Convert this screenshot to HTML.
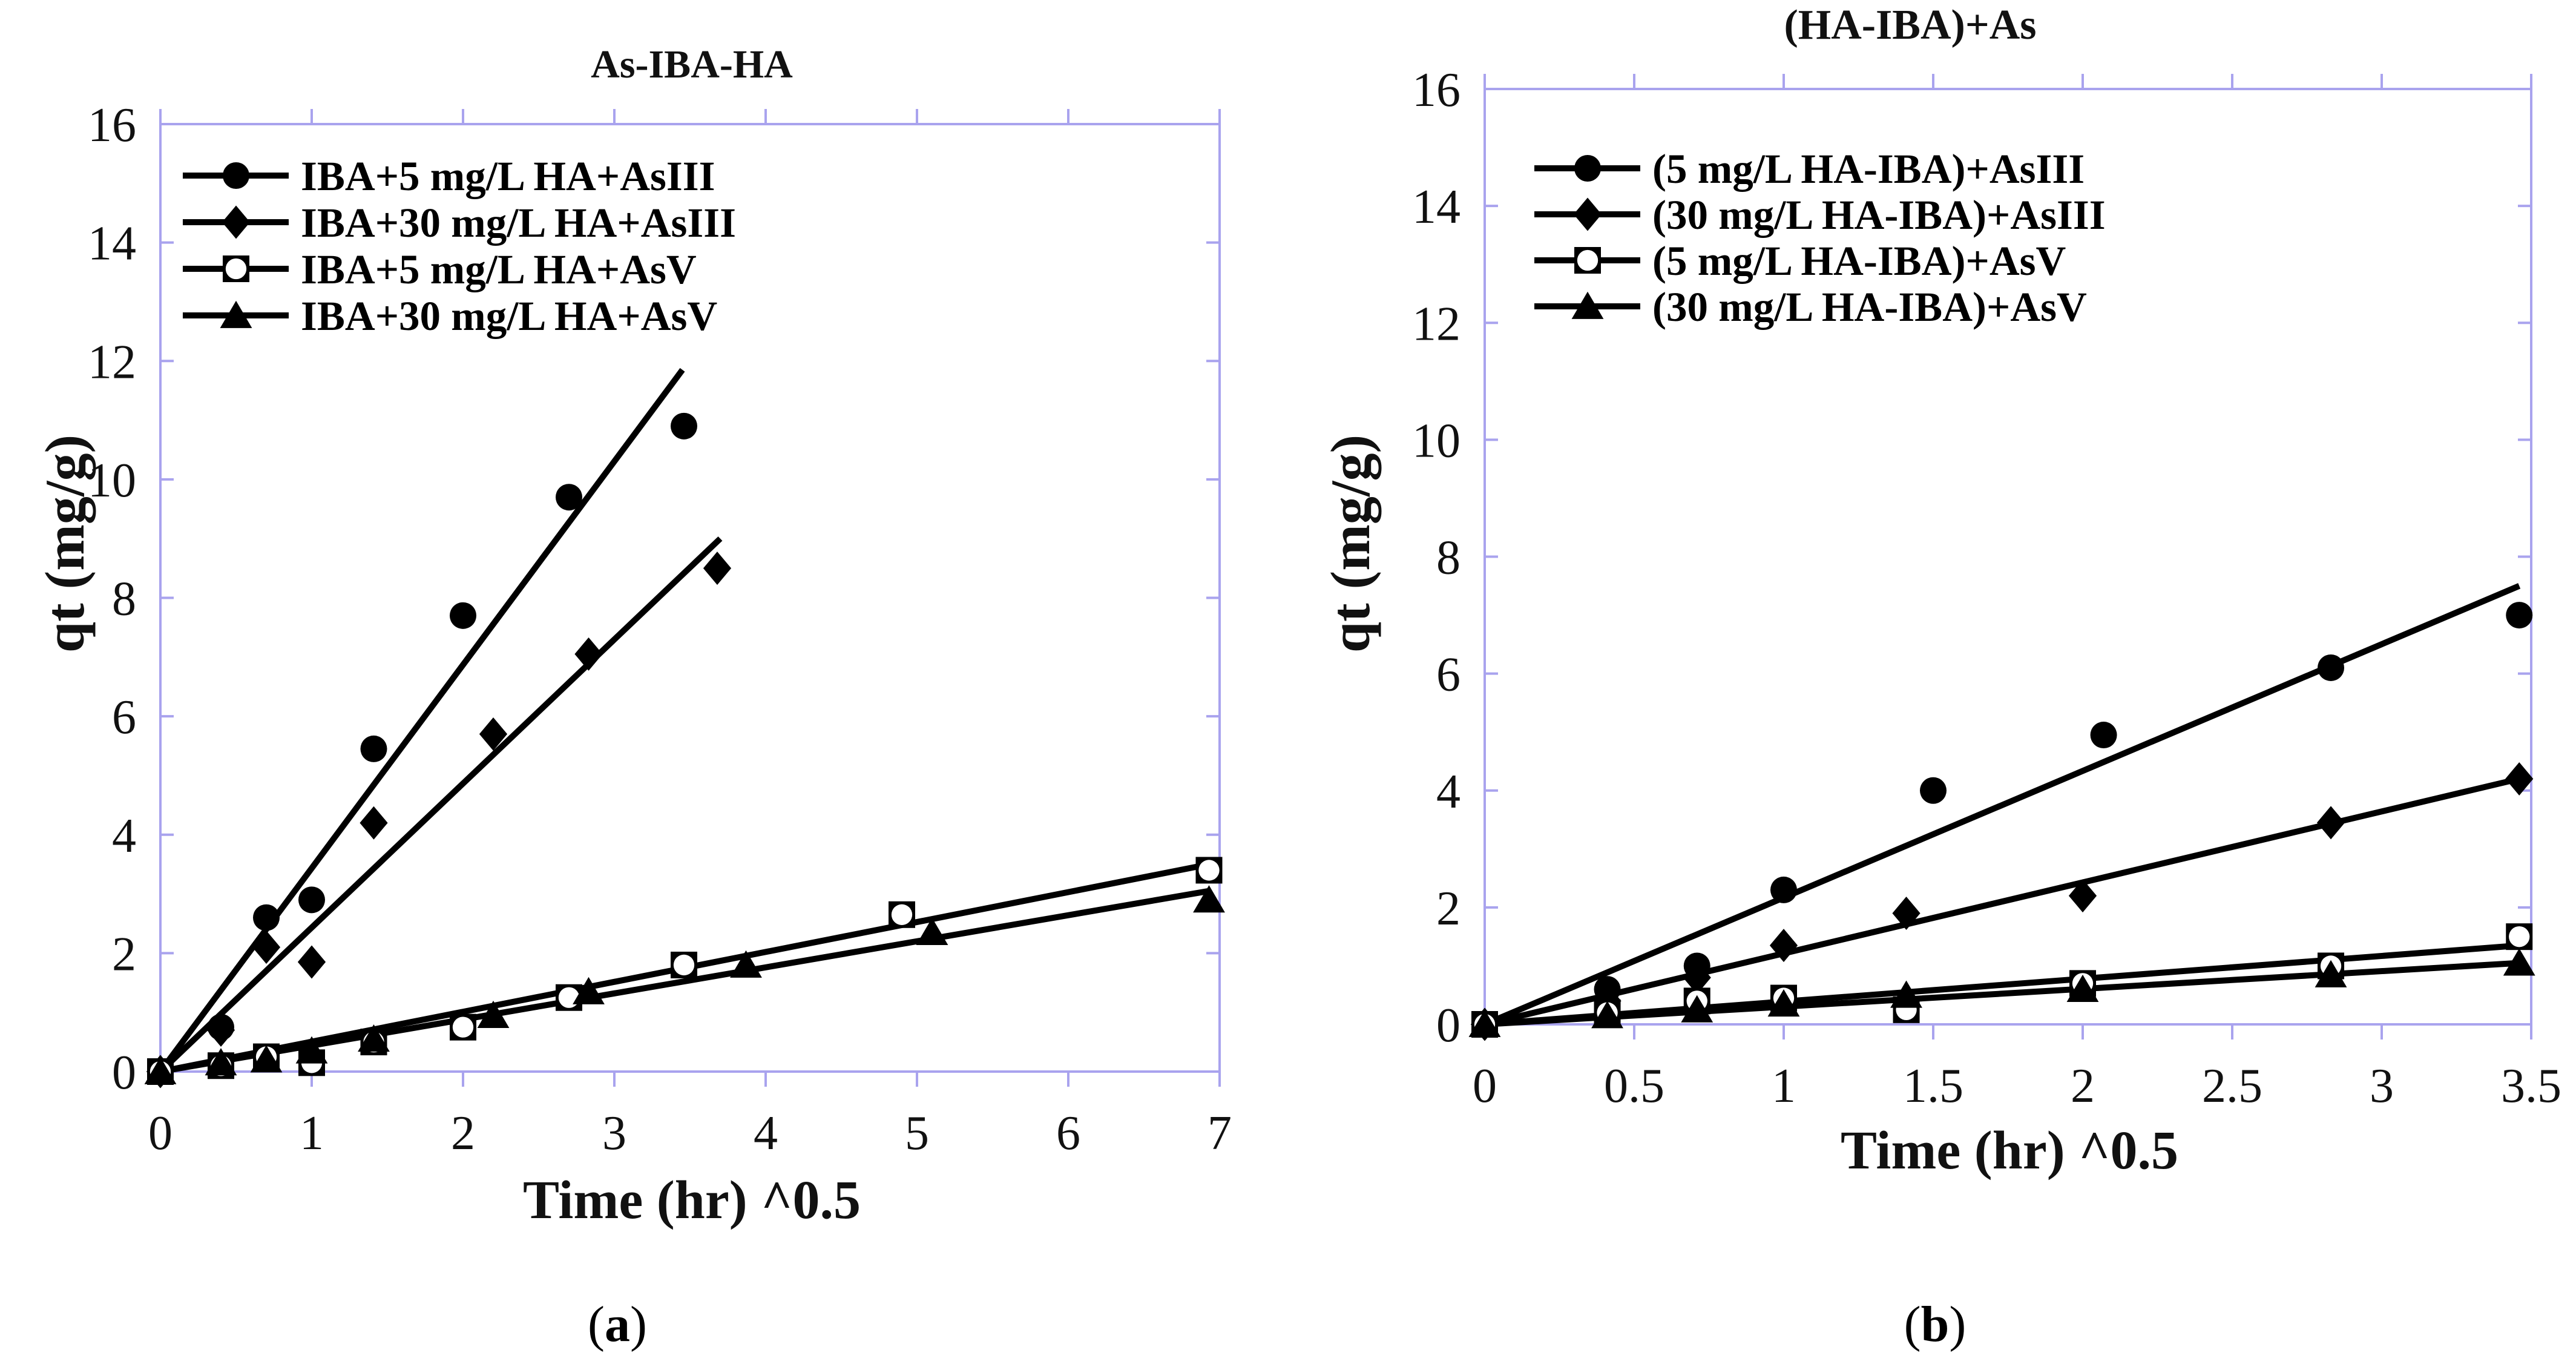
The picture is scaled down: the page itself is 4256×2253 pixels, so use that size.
<!DOCTYPE html>
<html><head><meta charset="utf-8"><style>
html,body{margin:0;padding:0;background:#fff;}
svg{display:block;font-family:"Liberation Serif",serif;}
</style></head><body>
<svg id="fig" width="4256" height="2253" viewBox="0 0 4256 2253" xmlns="http://www.w3.org/2000/svg"></svg>
<script>
// ---- Panel (a) data ----
const aS1x=[0,0.4,0.7,1,1.41,2,2.7,3.46];
const aS1y=[0,0.75,2.6,2.9,5.45,7.7,9.7,10.9];
const aS2x=[0,0.4,0.7,1,1.41,2.2,2.83,3.68];
const aS2y=[0,0.7,2.1,1.85,4.2,5.7,7.05,8.5];
const aS3x=[0,0.4,0.7,1,1.41,2,2.7,3.46,4.9,6.93];
const aS3y=[0,0.1,0.25,0.15,0.5,0.75,1.25,1.8,2.65,3.4];
const aS4x=[0,0.4,0.7,1,1.41,2.2,2.83,3.87,5.1,6.93];
const aS4y=[0,0.15,0.2,0.35,0.55,0.95,1.35,1.8,2.35,2.9];
const aFitEndX=[3.45,3.7,6.93,6.93];
const aFitEndY=[11.85,9.0,3.5,3.05];
const aXTicks=[0,1,2,3,4,5,6,7];
const aYTicks=[0,2,4,6,8,10,12,14,16];
const aLegend=["IBA+5 mg/L HA+AsIII","IBA+30 mg/L HA+AsIII","IBA+5 mg/L HA+AsV","IBA+30 mg/L HA+AsV"];
// ---- Panel (b) data ----
const bS1x=[0,0.41,0.71,1,1.5,2.07,2.83,3.46];
const bS1y=[0,0.6,1.0,2.3,4.0,4.95,6.1,7.0];
const bS2x=[0,0.41,0.71,1,1.41,2,2.83,3.46];
const bS2y=[0,0.4,0.8,1.35,1.9,2.2,3.45,4.2];
const bS3x=[0,0.41,0.71,1,1.41,2,2.83,3.46];
const bS3y=[0,0.2,0.4,0.45,0.25,0.7,1.0,1.5];
const bS4x=[0,0.41,0.71,1,1.41,2,2.83,3.46];
const bS4y=[0,0.15,0.25,0.35,0.5,0.6,0.85,1.05];
const bFitEndX=[3.46,3.46,3.46,3.46];
const bFitEndY=[7.5,4.2,1.35,1.05];
const bXTicks=[0,0.5,1,1.5,2,2.5,3,3.5];
const bXTickLabels=["0","0.5","1","1.5","2","2.5","3","3.5"];
const bYTicks=[0,2,4,6,8,10,12,14,16];
const bLegend=["(5 mg/L HA-IBA)+AsIII","(30 mg/L HA-IBA)+AsIII","(5 mg/L HA-IBA)+AsV","(30 mg/L HA-IBA)+AsV"];

const NS="http://www.w3.org/2000/svg";
const svg=document.getElementById('fig');
function mk(tag,attrs,parent){const e=document.createElementNS(NS,tag);for(const k in attrs)e.setAttribute(k,attrs[k]);(parent||svg).appendChild(e);return e;}
function txt(s,attrs,parent){const e=mk('text',attrs,parent);e.textContent=s;return e;}

function marker(g,type,cx,cy,r){
  let e;
  if(type===0){e=mk('circle',{cx:cx,cy:cy,r:r,fill:'#000'},g);}
  else if(type===1){e=mk('polygon',{points:`${cx},${cy-r*1.25} ${cx+r*1.05},${cy} ${cx},${cy+r*1.25} ${cx-r*1.05},${cy}`,fill:'#000'},g);}
  else if(type===2){e=mk('g',{},g);mk('rect',{x:cx-r,y:cy-r,width:2*r,height:2*r,fill:'#000'},e);mk('circle',{cx:cx,cy:cy,r:r*0.78,fill:'#fff'},e);}
  else {e=mk('polygon',{points:`${cx},${cy-r*1.1} ${cx+r*1.2},${cy+r*0.95} ${cx-r*1.2},${cy+r*0.95}`,fill:'#000'},g);}
  return e;
}

function panel(o){
  const g=mk('g',{});
  
  
  const X=v=>o.x0+(v-o.xmin)/(o.xmax-o.xmin)*(o.x1-o.x0);
  const Y=v=>o.y0-(v/16)*(o.y0-o.y1);
  const fr=mk('rect',{x:o.x0,y:o.y1,width:o.x1-o.x0,height:o.y0-o.y1,fill:'none',stroke:'#a9a3ee','stroke-width':4},g);
  
  
  o.xt.forEach((v,i)=>{
    const x=X(v);
    mk('line',{x1:x,y1:o.y0,x2:x,y2:o.y0+25,stroke:'#a9a3ee','stroke-width':4},g);
    mk('line',{x1:x,y1:o.y1,x2:x,y2:o.y1-25,stroke:'#a9a3ee','stroke-width':4},g);
    const t=txt(o.xtl?o.xtl[i]:String(v),{x:x,y:o.y0+128,'font-size':80,'text-anchor':'middle',fill:'#111'},g);
    
    
  });
  o.yt.forEach(v=>{
    const y=Y(v);
    mk('line',{x1:o.x0,y1:y,x2:o.x0+22,y2:y,stroke:'#a9a3ee','stroke-width':4},g);
    mk('line',{x1:o.x1,y1:y,x2:o.x1-22,y2:y,stroke:'#a9a3ee','stroke-width':4},g);
    const t=txt(String(v),{x:o.x0-40,y:y+28,'font-size':80,'text-anchor':'end',fill:'#111'},g);
    
    
  });
  o.series.forEach((s,i)=>{
    const l=mk('line',{x1:X(0),y1:Y(0),x2:X(o.fx[i]),y2:Y(o.fy[i]),stroke:'#000','stroke-width':10},g);
    
    
  });
  [0,1,2,3].forEach(i=>{
    const s=o.series[i];
    s[0].forEach((xv,j)=>{
      const m=marker(g,i,X(xv),Y(s[1][j]),22);
      
      
    });
  });
  o.leg.forEach((s,i)=>{
    const y=o.ly+i*o.ldy;
    const lg=mk('g',{},g);
    
    
    mk('line',{x1:o.lx,y1:y,x2:o.lx+175,y2:y,stroke:'#000','stroke-width':10},lg);
    marker(lg,i,o.lx+88,y,22);
    txt(s,{x:o.lx+195,y:y+24,'font-size':69,'font-weight':'bold',fill:'#000'},lg);
  });
  const tt=txt(o.title,{x:o.tx,y:o.ty,'font-size':o.tfs,'font-weight':'bold','text-anchor':'middle',fill:'#111'},g);
  
  
  const xl=txt('Time (hr) ^0.5',{x:o.xlx,y:o.xly,'font-size':90,'font-weight':'bold','text-anchor':'middle',fill:'#111'},g);
  
  
  const yl=txt('qt (mg/g)',{x:0,y:0,'font-size':92,'font-weight':'bold','text-anchor':'middle',fill:'#111',transform:`translate(${o.ylx},${o.yly}) rotate(-90)`},g);
  
  
  const pl=mk('text',{x:o.plx,y:2215,'font-size':84,'text-anchor':'middle',fill:'#000'},g);
  
  
  const t1=mk('tspan',{},pl);t1.textContent='(';
  const t2=mk('tspan',{'font-weight':'bold'},pl);t2.textContent=o.plabel;
  const t3=mk('tspan',{},pl);t3.textContent=')';
}

panel({name:'panel-a',x0:265,x1:2015,y0:1770,y1:205,xmin:0,xmax:7,xt:aXTicks,yt:aYTicks,
  series:[[aS1x,aS1y],[aS2x,aS2y],[aS3x,aS3y],[aS4x,aS4y]],fx:aFitEndX,fy:aFitEndY,
  leg:aLegend,lx:302,ly:290,ldy:77,title:'As-IBA-HA',tfs:66,tx:1143,ty:128,xlx:1143,xly:2012,ylx:138,yly:898,plabel:'a',plx:1020});
panel({name:'panel-b',x0:2453,x1:4182,y0:1692,y1:147,xmin:0,xmax:3.5,xt:bXTicks,xtl:bXTickLabels,yt:bYTicks,
  series:[[bS1x,bS1y],[bS2x,bS2y],[bS3x,bS3y],[bS4x,bS4y]],fx:bFitEndX,fy:bFitEndY,
  leg:bLegend,lx:2535,ly:278,ldy:76,title:'(HA-IBA)+As',tfs:70,tx:3156,ty:64,xlx:3320,xly:1930,ylx:2262,yly:898,plabel:'b',plx:3197});
</script>
</body></html>
